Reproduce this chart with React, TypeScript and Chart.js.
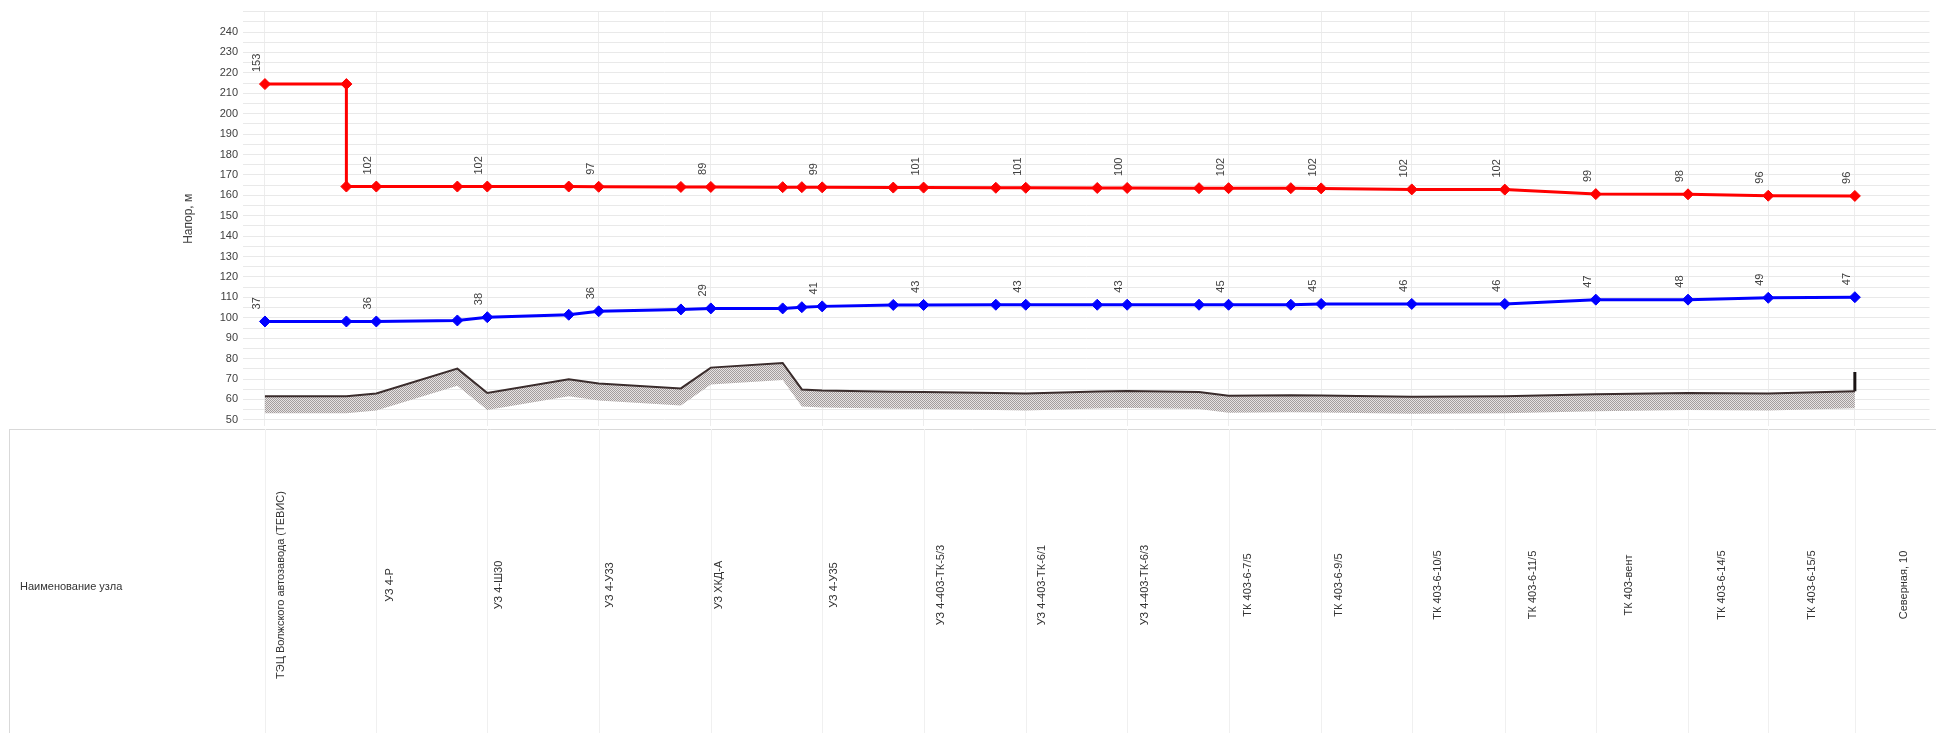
import React, { useEffect, useRef } from 'react';
import { Chart, registerables } from 'chart.js';

Chart.register(...registerables);

// ---------------- data ----------------
const NODE_NAMES = [
  'ТЭЦ Волжского автозавода (ТЕВИС)',
  'УЗ 4-Р',
  'УЗ 4-Ш30',
  'УЗ 4-У33',
  'УЗ ХКД-А',
  'УЗ 4-У35',
  'УЗ 4-403-ТК-5/3',
  'УЗ 4-403-ТК-6/1',
  'УЗ 4-403-ТК-6/3',
  'ТК 403-6-7/5',
  'ТК 403-6-9/5',
  'ТК 403-6-10/5',
  'ТК 403-6-11/5',
  'ТК 403-вент',
  'ТК 403-6-14/5',
  'ТК 403-6-15/5',
  'Северная, 10',
];

// distance along the route of every node (m)
const NODE_DIST = [55, 334, 612, 891, 1172, 1451, 1705, 1961, 2215, 2469, 2701, 2928, 3161, 3389, 3620, 3821, 4038];

// pressure labels at nodes (m)
const SUPPLY_LABELS = [153, 102, 102, 97, 89, 99, 101, 101, 100, 102, 102, 102, 102, 99, 98, 96, 96];
const RETURN_LABELS = [37, 36, 38, 36, 29, 41, 43, 43, 43, 45, 45, 46, 46, 47, 48, 49, 47];

// supply line (red) — distance / head
const SUPPLY_DIST = [55, 259, 259, 334, 537, 612, 816, 891, 1097, 1172, 1352, 1400, 1451, 1629, 1705, 1886, 1961, 2140, 2215, 2395, 2469, 2625, 2701, 2928, 3161, 3389, 3620, 3821, 4038];
const SUPPLY_HEAD = [214.5, 214.5, 164.3, 164.3, 164.3, 164.3, 164.3, 164.2, 164.1, 164.1, 164.0, 164.0, 163.9, 163.8, 163.8, 163.7, 163.7, 163.6, 163.6, 163.5, 163.5, 163.5, 163.4, 162.9, 162.8, 160.6, 160.5, 159.8, 159.7];

// return line (blue)
const RETURN_DIST = [55, 259, 334, 537, 612, 816, 891, 1097, 1172, 1352, 1400, 1451, 1629, 1705, 1886, 1961, 2140, 2215, 2395, 2469, 2625, 2701, 2928, 3161, 3389, 3620, 3821, 4038];
const RETURN_HEAD = [98.2, 98.2, 98.2, 98.7, 100.3, 101.5, 103.2, 104.1, 104.6, 104.6, 105.2, 105.6, 106.3, 106.3, 106.4, 106.4, 106.4, 106.4, 106.4, 106.4, 106.4, 106.8, 106.8, 106.8, 108.9, 108.9, 109.8, 110.1];

// ground profile
const GROUND_DIST = [55, 259, 334, 537, 612, 816, 891, 1097, 1172, 1352, 1400, 1451, 1629, 1705, 1886, 1961, 2140, 2215, 2395, 2469, 2625, 2701, 2928, 3161, 3389, 3620, 3821, 4038];
const GROUND_ELEV = [61.6, 61.6, 62.9, 75.1, 63.2, 69.9, 67.8, 65.4, 75.6, 77.9, 64.9, 64.4, 63.8, 63.6, 63.2, 62.9, 63.9, 64.1, 63.7, 61.8, 62.1, 61.9, 61.3, 61.6, 62.5, 63.2, 62.9, 64.0];

// end-of-route marker (building)
const END_DIST = [4038, 4038];
const END_ELEV = [64.0, 73.5];

const Y_LABELED_TICKS = [50, 60, 70, 80, 90, 100, 110, 120, 130, 140, 150, 160, 170, 180, 190, 200, 210, 220, 230, 240];

// ---------------- layout / style ----------------
const FONT = '"Liberation Sans", Arial, sans-serif';
// horizontal shift (px) of each node name in the bottom table relative to its node line
const TABLE_LABEL_SHIFT = [16, 14, 12, 11, 8, 12, 17, 16, 18, 19, 18, 26, 28, 33, 34, 44, 49];

export default function App() {
  const canvasRef = useRef<HTMLCanvasElement | null>(null);

  useEffect(() => {
    document.body.style.margin = '0';
    const canvas = canvasRef.current;
    if (!canvas) return;

    // stipple pattern for ground hatch
    const pc = document.createElement('canvas');
    pc.width = 2;
    pc.height = 2;
    const pctx = pc.getContext('2d')!;
    pctx.fillStyle = '#e6e2e2';
    pctx.fillRect(0, 0, 2, 2);
    pctx.fillStyle = '#a39d9d';
    pctx.fillRect(0, 0, 1, 1);
    pctx.fillRect(1, 1, 1, 1);
    const pattern = canvas.getContext('2d')!.createPattern(pc, 'repeat');

    const hatchPlugin = {
      id: 'groundHatch',
      beforeDatasetsDraw(chart: any) {
        const meta = chart.getDatasetMeta(2);
        const pts = meta.data;
        if (!pts.length) return;
        const ctx = chart.ctx;
        const a = chart.chartArea;
        ctx.save();
        ctx.beginPath();
        ctx.rect(a.left, a.top, a.right - a.left, a.bottom - a.top);
        ctx.clip();
        ctx.beginPath();
        pts.forEach((p: any, i: number) => (i ? ctx.lineTo(p.x, p.y) : ctx.moveTo(p.x, p.y)));
        for (let i = pts.length - 1; i >= 0; i--) ctx.lineTo(pts[i].x, pts[i].y + 17);
        ctx.closePath();
        ctx.fillStyle = pattern as any;
        ctx.fill();
        ctx.restore();
      },
    };

    const labelPlugin = {
      id: 'nodeLabels',
      afterDatasetsDraw(chart: any) {
        const ctx = chart.ctx;
        const draw = (dsIndex: number, labels: number[]) => {
          const meta = chart.getDatasetMeta(dsIndex);
          const data = chart.data.datasets[dsIndex].data as any[];
          NODE_DIST.forEach((d, i) => {
            const idx = data.findIndex((p) => p.x === d);
            const el = meta.data[idx];
            if (!el) return;
            ctx.save();
            ctx.translate(el.x - 8, el.y - 12);
            ctx.rotate(-Math.PI / 2);
            ctx.font = `11px ${FONT}`;
            ctx.fillStyle = '#404040';
            ctx.textAlign = 'left';
            ctx.textBaseline = 'middle';
            ctx.fillText(String(labels[i]), 0, 0);
            ctx.restore();
          });
        };
        draw(0, SUPPLY_LABELS);
        draw(1, RETURN_LABELS);
      },
    };

    const tablePlugin = {
      id: 'nodeTable',
      afterDraw(chart: any) {
        const ctx = chart.ctx;
        const xs = chart.scales.x;
        const top = 429;
        const bottom = chart.height;
        const left = 9;
        ctx.save();
        ctx.lineWidth = 1;
        ctx.strokeStyle = '#d9d9d9';
        ctx.beginPath();
        ctx.moveTo(left, top + 0.5);
        ctx.lineTo(chart.width, top + 0.5);
        ctx.moveTo(left + 0.5, top);
        ctx.lineTo(left + 0.5, bottom);
        ctx.stroke();
        ctx.strokeStyle = '#f0f0f0';
        NODE_DIST.forEach((d) => {
          const x = Math.round(xs.getPixelForValue(d)) + 0.5;
          ctx.beginPath();
          ctx.moveTo(x, top);
          ctx.lineTo(x, bottom);
          ctx.stroke();
        });
        ctx.fillStyle = '#333333';
        ctx.font = `11px ${FONT}`;
        ctx.textAlign = 'left';
        ctx.textBaseline = 'middle';
        ctx.fillText('Наименование узла', 20, 587);
        NODE_NAMES.forEach((name, i) => {
          const x = xs.getPixelForValue(NODE_DIST[i]) + TABLE_LABEL_SHIFT[i];
          ctx.save();
          ctx.translate(x, 585);
          ctx.rotate(-Math.PI / 2);
          ctx.textAlign = 'center';
          ctx.textBaseline = 'middle';
          ctx.fillText(name, 0, 0);
          ctx.restore();
        });
        ctx.restore();
      },
    };

    const toPts = (xs: number[], ys: number[]) => xs.map((x, i) => ({ x, y: ys[i] }));

    const chart = new Chart(canvas, {
      type: 'line',
      data: {
        datasets: [
          {
            label: 'Подающий',
            data: toPts(SUPPLY_DIST, SUPPLY_HEAD),
            borderColor: '#ff0000',
            backgroundColor: '#ff0000',
            borderWidth: 3,
            pointStyle: 'rectRot',
            pointRadius: 5.5,
            pointBorderWidth: 1,
            pointBackgroundColor: '#ff0000',
            pointBorderColor: '#ff0000',
            tension: 0,
            fill: false,
          },
          {
            label: 'Обратный',
            data: toPts(RETURN_DIST, RETURN_HEAD),
            borderColor: '#0000ff',
            backgroundColor: '#0000ff',
            borderWidth: 3,
            pointStyle: 'rectRot',
            pointRadius: 5.5,
            pointBorderWidth: 1,
            pointBackgroundColor: '#0000ff',
            pointBorderColor: '#0000ff',
            tension: 0,
            fill: false,
          },
          {
            label: 'Рельеф',
            data: toPts(GROUND_DIST, GROUND_ELEV),
            borderColor: '#3a2c2c',
            borderWidth: 2,
            pointRadius: 0,
            tension: 0,
            fill: false,
          },
          {
            label: 'Здание',
            data: toPts(END_DIST, END_ELEV),
            borderColor: '#1a1414',
            borderWidth: 3,
            pointRadius: 0,
            tension: 0,
            fill: false,
          },
        ],
      },
      options: {
        responsive: false,
        maintainAspectRatio: false,
        devicePixelRatio: 1,
        animation: false,
        layout: { padding: { left: 175, right: 3, top: 8, bottom: 307 } },
        plugins: {
          legend: { display: false },
          tooltip: { enabled: false },
        },
        scales: {
          x: {
            type: 'linear',
            min: 0,
            max: 4225,
            border: { display: false },
            grid: { color: '#ededed', drawTicks: false },
            ticks: { display: false },
            afterBuildTicks: (scale: any) => {
              scale.ticks = NODE_DIST.map((v) => ({ value: v }));
            },
            afterFit: (scale: any) => {
              scale.height = 0;
            },
          },
          y: {
            type: 'linear',
            min: 47,
            max: 250,
            border: { display: false },
            grid: { color: '#e9e9e9', drawTicks: false },
            title: {
              display: true,
              text: 'Напор, м',
              color: '#404040',
              font: { size: 12, family: FONT },
              padding: 6,
            },
            ticks: {
              autoSkip: false,
              padding: 5,
              color: '#404040',
              font: { size: 11, family: FONT },
              callback: (v: any) => (Y_LABELED_TICKS.includes(Number(v)) ? String(v) : ''),
            },
            afterBuildTicks: (scale: any) => {
              const t: any[] = [];
              for (let v = 50; v <= 250; v += 5) t.push({ value: v });
              scale.ticks = t;
            },
            afterFit: (scale: any) => {
              scale.width = 68;
            },
          },
        },
      },
      plugins: [hatchPlugin, labelPlugin, tablePlugin],
    } as any);

    return () => chart.destroy();
  }, []);

  return (
    <div style={{ width: 1936, height: 733, position: 'relative', background: '#ffffff' }}>
      <canvas ref={canvasRef} width={1936} height={733} style={{ display: 'block' }} />
    </div>
  );
}
